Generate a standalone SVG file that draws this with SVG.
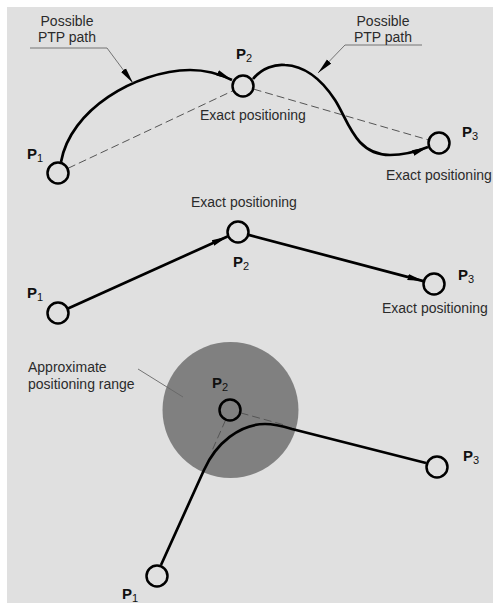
<svg xmlns="http://www.w3.org/2000/svg" width="493" height="603" viewBox="0 0 493 603">
<style>
  .bg { fill: #ffffff; }
  .panel { fill: #e0e0e0; }
  .node { fill: #e0e0e0; stroke: #000; stroke-width: 2.5; }
  .node-in { fill: none; stroke: #000; stroke-width: 2.5; }
  .path { fill: none; stroke: #000; stroke-width: 2.7; }
  .dash { fill: none; stroke: #555; stroke-width: 1; stroke-dasharray: 8 4; }
  .leader { fill: none; stroke: #666; stroke-width: 0.9; }
  .lbl { font-family: "Liberation Sans", Arial, sans-serif; font-size: 14px; fill: #2b2b2b; }
  .pl { font-family: "Liberation Sans", Arial, sans-serif; font-size: 15px; font-weight: bold; fill: #111; }
  .sub { font-size: 11px; font-weight: normal; }
</style>
<defs>
  <marker id="arr" markerUnits="userSpaceOnUse" markerWidth="16" markerHeight="8" viewBox="0 0 16 8" refX="16" refY="4" orient="auto">
    <path d="M0,1 L16,4 L0,7 Z" fill="#000"/>
  </marker>
</defs>
<rect class="bg" x="0" y="0" width="493" height="603"/>
<rect class="panel" x="7" y="7" width="486" height="596"/>

<g id="range">
  <circle cx="230.5" cy="410" r="68" fill="#808080"/>
</g>

<g id="connectors">
  <line class="dash" x1="68" y1="168.3" x2="233" y2="90.7"/>
  <line class="dash" x1="253.6" y1="89.1" x2="428.4" y2="139.9"/>
  <path class="path" marker-end="url(#arr)" d="M61,162 C70,110 135,71 190,70 C208,70 222,75 232,80"/>
  <path class="path" marker-end="url(#arr)" d="M253,79 C262,68 275,64 285,65 C305,66 322,80 335,100 C348,120 355,155 390,155 C405,155 418,151 428,147"/>
  <polyline class="leader" marker-end="url(#arr)" points="30,48 107,48 133,83"/>
  <polyline class="leader" marker-end="url(#arr)" points="422,45 345,45 318,73"/>
  <line class="path" marker-end="url(#arr)" x1="68" y1="308.4" x2="227.5" y2="236.5"/>
  <line class="path" marker-end="url(#arr)" x1="248.6" y1="234.9" x2="423.4" y2="281.1"/>
  <line class="dash" x1="225.6" y1="420" x2="211" y2="453"/>
  <line class="dash" x1="240.6" y1="412.9" x2="283" y2="424.6"/>
  <path class="path" d="M161,565 L204,470 C216,443 240,424 265,424 C275,424 282,426 292,429 L426,463"/>
  <line class="leader" x1="138" y1="369" x2="183" y2="397"/>
</g>

<g id="top-p1">
  <circle class="node" cx="58" cy="173" r="10.5"/>
  <text class="pl" x="27" y="159">P<tspan class="sub" dy="3">1</tspan></text>
</g>
<g id="top-p2">
  <circle class="node" cx="243" cy="86" r="10.5"/>
  <text class="pl" x="236" y="59">P<tspan class="sub" dy="3">2</tspan></text>
  <text class="lbl" x="200" y="120">Exact positioning</text>
</g>
<g id="top-p3">
  <circle class="node" cx="439" cy="143" r="10.5"/>
  <text class="pl" x="462" y="137">P<tspan class="sub" dy="3">3</tspan></text>
  <text class="lbl" x="386" y="180">Exact positioning</text>
</g>
<g id="top-labels">
  <text class="lbl" x="67" y="26" text-anchor="middle">Possible</text>
  <text class="lbl" x="67" y="42" text-anchor="middle">PTP path</text>
  <text class="lbl" x="383" y="26" text-anchor="middle">Possible</text>
  <text class="lbl" x="383" y="42" text-anchor="middle">PTP path</text>
</g>

<g id="mid-p1">
  <circle class="node" cx="58" cy="313" r="10.5"/>
  <text class="pl" x="27" y="298">P<tspan class="sub" dy="3">1</tspan></text>
</g>
<g id="mid-p2">
  <circle class="node" cx="238" cy="232" r="10.5"/>
  <text class="lbl" x="191" y="207">Exact positioning</text>
  <text class="pl" x="233" y="267">P<tspan class="sub" dy="3">2</tspan></text>
</g>
<g id="mid-p3">
  <circle class="node" cx="434" cy="284" r="10.5"/>
  <text class="pl" x="458" y="280">P<tspan class="sub" dy="3">3</tspan></text>
  <text class="lbl" x="382" y="313">Exact positioning</text>
</g>

<g id="bot-p1">
  <circle class="node" cx="157" cy="576" r="10.5"/>
  <text class="pl" x="122" y="599">P<tspan class="sub" dy="3">1</tspan></text>
</g>
<g id="bot-p2">
  <circle class="node-in" cx="230" cy="410" r="10.5"/>
  <text class="pl" x="212" y="388">P<tspan class="sub" dy="3">2</tspan></text>
</g>
<g id="bot-p3">
  <circle class="node" cx="437" cy="467" r="10.5"/>
  <text class="pl" x="463" y="461">P<tspan class="sub" dy="3">3</tspan></text>
</g>
<g id="bot-labels">
  <text class="lbl" x="28" y="372">Approximate</text>
  <text class="lbl" x="28" y="389">positioning range</text>
</g>
</svg>
